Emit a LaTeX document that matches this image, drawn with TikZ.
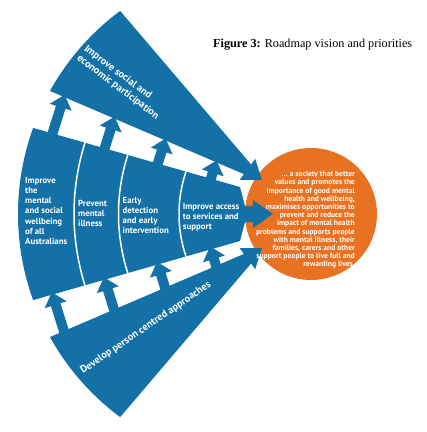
\documentclass[tikz,border=0pt]{standalone}
\usepackage{fontspec}
\setmainfont{Liberation Serif}
\newfontfamily\fanfont{PT Sans}
\usetikzlibrary{calc}
\definecolor{fanblue}{RGB}{19,113,168}
\definecolor{fanorange}{RGB}{232,114,34}
\tikzset{
  bandtext/.style={text=white, font=\fanfont\bfseries\fontsize{8.8}{10.2}\selectfont, align=left, inner sep=0pt},
  wedgetext/.style={text=white, font=\fanfont\bfseries\fontsize{10.2}{11.8}\selectfont, align=left, inner sep=0pt}
}
\begin{document}
\begin{tikzpicture}[x=1pt,y=1pt]
\useasboundingbox (-271,-218) rectangle (156,214);
\def\sw{5pt}
\def\hw{11.5pt}
\def\hl{13pt}

% cercle orange
\fill[fanorange] (40,0) circle (66);

% bandes du milieu
\fill[fanblue] (160.1:253) arc[start angle=160.1, end angle=199.9, radius=253]
  -- (-31,-27) -- (-26,-8) -- (-18,-8) -- (-18,-14) -- (2,0)
  -- (-18,14) -- (-18,8) -- (-26,8) -- (-31,27) -- cycle;

% separations blanches
\foreach \r in {237,192.5,132} {
  \draw[white, line width=1.5pt] ($(40,0)+(150:\r)$) arc[start angle=150, end angle=210, radius=\r];
}

% fleches vers le haut (bandes -> haut, bas -> bandes)
\foreach \bx/\by/\tx/\ty in {-219.2/78.3/-206.4/119.2, -167.1/63.3/-156.4/97.4,
    -114/47.9/-105.4/75.4, -61/32.5/-54.4/53.5,
    -206.4/-119.2/-219.2/-78.3, -156.4/-97.4/-167.1/-63.3,
    -105.4/-75.4/-114/-47.9, -54.4/-53.5/-61/-32.5} {
  \coordinate (b) at (\bx,\by);
  \coordinate (t) at (\tx,\ty);
  \coordinate (h) at ($(t)!\hl!(b)$);
  \fill[fanblue] ($(b)!\sw!90:(t)$) -- ($(h)!\sw!-90:(b)$) -- ($(h)!\hw!-90:(b)$) -- (t)
    -- ($(h)!\hw!90:(b)$) -- ($(h)!\sw!90:(b)$) -- ($(b)!\sw!-90:(t)$) -- cycle;
}

% grandes fleches haut et bas
\foreach \s in {1,-1} {
  \fill[fanblue, yscale=\s] (126.6:253) arc[start angle=126.6, end angle=150.9, radius=253]
    -- (-27.1,39.9) -- (-31.2,34.2) -- (-9,34) -- (-15.8,55.2) -- (-19.9,49.5) -- cycle;
}

% textes
\node[wedgetext, rotate=-37, anchor=north west] (social) at (-183,170) {Improve social and\\economic participation};
\node[wedgetext, rotate=34.4, anchor=base west] (person) at (-188,-160) {Develop person centred approaches};
\node[bandtext, anchor=north west] (wellbeing) at (-246,37) {Improve\\the\\mental\\and social\\wellbeing\\of all\\Australians};
\node[bandtext, anchor=north west] (prevent) at (-193,14) {Prevent\\mental\\illness};
\node[bandtext, anchor=north west] (early) at (-148.5,17) {Early\\detection\\and early\\intervention};
\node[bandtext, anchor=north west] (access) at (-88.3,11) {Improve access\\to services and\\support};
\node[text=white, font=\fanfont\bfseries\fontsize{7.6}{8.2}\selectfont, align=right, inner sep=0pt, anchor=north east] (vision) at (84,43)
  {\dots\ a society that better\\values and promotes the\\importance of good mental\\health and wellbeing,\\maximises opportunities to\\prevent and reduce the\\impact of mental health\\problems and supports people\\with mental illness, their\\families, carers and other\\support people to live full and\\rewarding lives.};
\node[anchor=west, inner sep=0pt, font=\fontsize{12.2}{14}\selectfont] (title) at (-58,169) {\textbf{Figure 3:} Roadmap vision and priorities};
\end{tikzpicture}
\end{document}
